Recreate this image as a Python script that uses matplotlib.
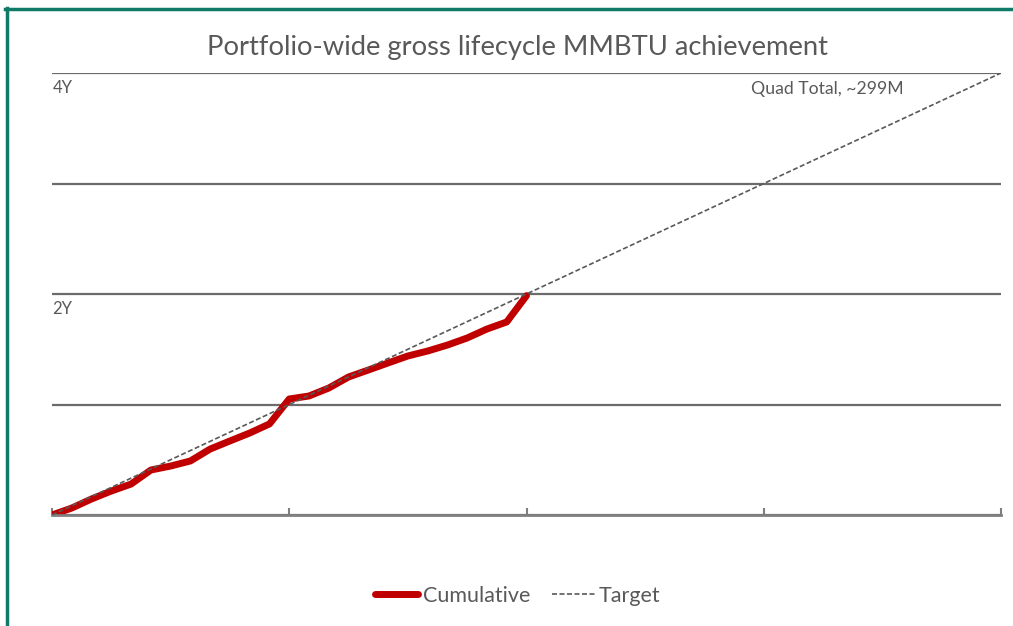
import matplotlib
matplotlib.use("Agg")
import matplotlib.pyplot as plt
from matplotlib.lines import Line2D

plt.rcParams['font.family'] = ['Lato', 'DejaVu Sans']

# Data
months = list(range(0, 25))
cumulative = [0.0, 0.063, 0.145, 0.217, 0.28, 0.407, 0.443, 0.489, 0.597, 0.67,
              0.742, 0.824, 1.05, 1.077, 1.149, 1.249, 1.312, 1.376, 1.439, 1.484,
              1.538, 1.602, 1.683, 1.747, 1.985]
target_x = [0, 48]
target_y = [0, 4]
title = "Portfolio-wide gross lifecycle MMBTU achievement"
annot = "Quad Total, ~299M"
gray = "#595959"

W, H = 1013, 626
fig = plt.figure(figsize=(W/100, H/100), dpi=100)
ax = fig.add_axes([52/W, (H-515)/H, (1001-52)/W, (515-73)/H])

ax.plot(target_x, target_y, color=gray, lw=1.2, ls=(0, (3, 1.5)), label="Target", zorder=3)
ax.plot(months, cumulative, color="#C00000", lw=5, solid_capstyle='round',
        solid_joinstyle='round', label="Cumulative", zorder=2)

ax.set_xlim(0, 48)
ax.set_ylim(0, 4)
ax.set_xticks([0, 12, 24, 36, 48])
ax.set_xticklabels([])
ax.set_yticks([0, 1, 2, 3, 4])
ax.set_yticklabels([])
ax.tick_params(axis='x', direction='in', length=5, width=1.5, color="#7f7f7f")
ax.tick_params(axis='y', length=0)
ax.grid(axis='y', color="#6b6b6b", lw=1.6)
for s in ['top', 'right', 'left']:
    ax.spines[s].set_visible(False)
ax.spines['bottom'].set_color("#7f7f7f")
ax.spines['bottom'].set_linewidth(2)
ax.set_axisbelow(True)

ax.text(0.05, 3.935, "4Y", color=gray, fontsize=12, va='top', ha='left')
ax.text(0.0, 1.935, "2Y", color=gray, fontsize=12, va='top', ha='left')
ax.text(43.1, 3.93, annot, color=gray, fontsize=12.7, va='top', ha='right')

fig.text(517/W, 1-47/H, title, color=gray, fontsize=19.7, ha='center', va='center')

handles, labels = ax.get_legend_handles_labels()
order = [1, 0]
leg = fig.legend([handles[i] for i in order], [labels[i] for i in order],
                 loc='center', bbox_to_anchor=(518/W, 1-596/H), ncol=2, frameon=False,
                 fontsize=15.5, handlelength=2.0, handletextpad=0.2, columnspacing=1.0,
                 labelcolor=gray)

green = "#0f7a68"
fig.add_artist(Line2D([6.5/W, 6.5/W], [0, 1-8/H], color=green, lw=2.5, transform=fig.transFigure))
fig.add_artist(Line2D([5/W, 1], [1-9/H, 1-9/H], color=green, lw=2.5, transform=fig.transFigure))

fig.savefig("out.png", dpi=100)
